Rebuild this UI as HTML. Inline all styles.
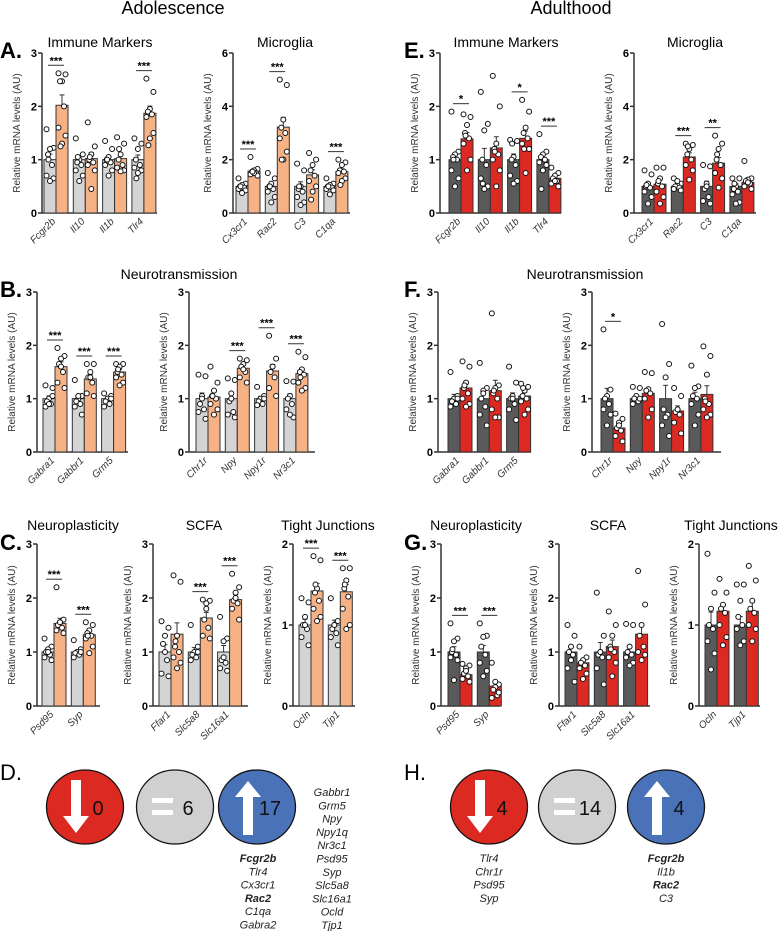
<!DOCTYPE html>
<html><head><meta charset="utf-8"><style>
body{margin:0;background:#fff;width:778px;height:931px;overflow:hidden}
svg{display:block;font-family:"Liberation Sans",sans-serif}
</style></head><body>
<svg id="fig" width="778" height="931" viewBox="0 0 778 931" xmlns="http://www.w3.org/2000/svg">
<text x="173" y="14" font-size="18" text-anchor="middle">Adolescence</text>
<text x="571" y="14" font-size="18" text-anchor="middle">Adulthood</text>
<g font-weight="bold" font-size="22">
<text x="0" y="58">A.</text>
<text x="0" y="297">B.</text>
<text x="0" y="550">C.</text>
<text x="0" y="780" font-weight="normal">D.</text>
<text x="404" y="58">E.</text>
<text x="404" y="297">F.</text>
<text x="404" y="550">G.</text>
<text x="404" y="780" font-weight="normal">H.</text>
</g>
<g font-size="14" text-anchor="middle">
<text x="100" y="47">Immune Markers</text>
<text x="285" y="47">Microglia</text>
<text x="179" y="279">Neurotransmission</text>
<text x="73" y="530">Neuroplasticity</text>
<text x="204" y="530">SCFA</text>
<text x="328" y="530">Tight Junctions</text>
<text x="506" y="47">Immune Markers</text>
<text x="695" y="47">Microglia</text>
<text x="585" y="279">Neurotransmission</text>
<text x="476" y="530">Neuroplasticity</text>
<text x="608" y="530">SCFA</text>
<text x="731" y="530">Tight Junctions</text>
</g>
</svg>
<script>
// ---- data ----
const catA1=["Fcgr2b","Il10","Il1b","Tlr4"];
const ctrlA1=[1,1,1,1]; const trtA1=[2.02,1.02,1.02,1.87];
const sigA1=["***","","","***"];
const ptsA1c=[[1.57,1.22,1.2,1.1,0.9,0.7,0.65,0.6,1.0],[1.4,1.1,1.0,0.95,0.9,0.8,0.7,0.6,1.05],[1.35,1.2,1.05,1.0,0.95,0.9,0.8,0.7,1.0],[1.4,1.3,1.2,1.0,0.9,0.85,0.8,0.75,0.65]];
const ptsA1t=[[2.62,2.6,2.47,2.47,2.0,1.6,1.45,1.3,1.25],[1.7,1.25,1.1,1.0,0.95,0.9,0.8,0.45,1.05],[1.42,1.3,1.1,1.0,0.9,0.85,0.8,0.78,1.2],[2.52,2.27,1.95,1.9,1.85,1.8,1.5,1.4,1.27]];
const catA2=["Cx3cr1","Rac2","C3","C1qa"];
const ctrlA2=[1,1,1,1]; const trtA2=[1.57,3.22,1.43,1.55];
const sigA2=["***","***","","***"];
const ptsA2c=[[1.3,1.1,1.05,1.0,0.95,0.9,0.85,0.75,1.0],[1.5,1.3,1.1,1.0,0.9,0.8,0.6,0.4,1.0],[1.85,1.6,1.0,0.9,0.8,0.6,0.4,0.3,1.0],[1.3,1.1,1.05,1.0,0.95,0.9,0.85,0.7,1.0]];
const ptsA2t=[[2.1,1.65,1.6,1.55,1.5,1.45,1.4,1.5,1.55],[5.0,4.8,3.5,3.2,3.0,2.8,2.3,2.0,2.0],[2.25,2.0,1.8,1.6,1.4,1.2,1.0,0.8,0.5],[2.0,1.9,1.8,1.6,1.55,1.5,1.3,1.2,1.05]];
const catB1=["Gabra1","Gabbr1","Grm5"];
const ctrlB1=[1,1,1]; const trtB1=[1.6,1.37,1.5]; const sigB1=["***","***","***"];
const ptsB1c=[[1.25,1.2,1.0,0.95,0.9,0.85,1.05,0.9],[1.35,1.05,1.0,0.95,0.9,0.85,0.7,1.05],[1.1,1.05,1.0,0.95,0.9,0.85,1.0]];
const ptsB1t=[[1.95,1.8,1.75,1.65,1.5,1.3,1.2,1.6],[1.65,1.65,1.5,1.4,1.3,1.1,1.05,1.4],[1.65,1.65,1.6,1.5,1.45,1.4,1.3,1.25,1.55]];
const catB2=["Chr1r","Npy","Npy1r","Nr3c1"];
const ctrlB2=[1,1,1,1]; const trtB2=[1.03,1.57,1.52,1.47]; const sigB2=["","***","***","***"];
const ptsB2c=[[1.45,1.42,1.05,0.9,0.8,0.75,0.62,1.0],[1.38,1.35,1.1,0.95,0.75,0.7,0.65,1.0],[1.22,1.05,1.0,0.95,0.9,0.88,1.0],[1.33,1.32,1.05,1.0,0.9,0.8,0.65,0.7]];
const ptsB2t=[[1.6,1.3,1.15,1.05,1.0,0.9,0.8,0.7,1.05],[1.75,1.72,1.65,1.6,1.5,1.4,1.3,1.55],[2.18,1.75,1.6,1.5,1.4,1.2,1.05,1.6],[1.88,1.78,1.55,1.5,1.45,1.3,1.2,1.15,1.4]];
const catC1=["Psd95","Syp"];
const ctrlC1=[1,1]; const trtC1=[1.53,1.32]; const sigC1=["***","***"];
const ptsC1c=[[1.25,1.1,1.05,1.0,0.95,0.9,0.85,1.0],[1.22,1.05,1.0,0.98,0.95,0.9,1.0]];
const ptsC1t=[[2.2,1.6,1.55,1.5,1.45,1.4,1.35,1.55],[1.55,1.5,1.4,1.35,1.3,1.25,1.1,0.98,1.3]];
const catC2=["Ffar1","Slc5a8","Slc16a1"];
const ctrlC2=[1,1,1]; const trtC2=[1.33,1.63,1.97]; const sigC2=["","***","***"];
const ptsC2c=[[1.57,1.45,1.3,1.15,0.85,0.6,0.55,1.0],[1.5,1.1,1.0,0.95,0.9,0.85,1.0],[1.65,1.25,1.2,0.85,0.8,0.7,0.65,0.9]];
const ptsC2t=[[2.42,2.3,1.3,1.1,1.0,0.9,0.8,0.7,1.2],[1.97,1.95,1.8,1.6,1.45,1.3,1.25,1.9],[2.45,2.2,2.1,1.95,1.9,1.8,1.6,2.0]];
const catC3=["Ocln","Tjp1"];
const ctrlC3=[1,1]; const trtC3=[1.42,1.41]; const sigC3=["***","***"];
const ptsC3c=[[1.33,1.28,1.1,1.0,0.95,0.85,0.75,1.0],[1.33,1.05,1.0,0.95,0.9,0.85,0.75,1.0]];
const ptsC3t=[[1.85,1.8,1.45,1.4,1.3,1.2,1.1,1.05,1.5],[1.7,1.7,1.55,1.45,1.35,1.2,1.0,0.95,1.5]];
const catE1=["Fcgr2b","Il10","Il1b","Tlr4"];
const ctrlE1=[1,1,1,1]; const trtE1=[1.39,1.22,1.4,0.65]; const sigE1=["*","","*","***"];
const ptsE1c=[[1.9,1.15,1.1,1.05,1.0,0.8,0.65,0.5,1.0],[2.27,1.67,1.55,1.0,0.9,0.65,0.5,0.45,0.55],[1.37,1.35,1.05,1.0,0.9,0.7,0.6,0.55,1.3],[1.48,1.15,1.1,1.05,1.0,0.95,0.9,0.8,0.45]];
const ptsE1t=[[1.85,1.8,1.65,1.5,1.4,1.3,1.0,0.8,1.45],[2.57,2.0,1.3,1.2,1.1,1.0,0.8,0.5,1.15],[2.12,1.9,1.6,1.5,1.4,1.3,1.2,0.75,1.2],[0.85,0.75,0.7,0.65,0.6,0.55,0.5,0.6]];
const catE2=["Cx3cr1","Rac2","C3","C1qa"];
const ctrlE2=[1,1,1,1]; const trtE2=[1.08,2.1,1.87,1.15]; const sigE2=["","***","**",""];
const ptsE2c=[[1.6,1.45,1.1,1.0,0.95,0.8,0.6,0.35,1.05],[1.3,1.1,1.05,1.0,0.95,0.9,0.85,1.2],[1.8,1.75,1.1,0.9,0.6,0.45,0.35,1.0],[1.3,1.3,1.0,0.9,0.8,0.7,0.4,0.35,1.1]];
const ptsE2t=[[1.7,1.7,1.3,1.1,1.0,0.8,0.6,0.35,1.2],[2.6,2.55,2.4,2.2,2.0,1.8,1.6,1.25,2.5],[2.9,2.6,2.4,2.0,1.8,1.5,1.3,0.95,2.2],[1.95,1.3,1.25,1.2,1.1,1.0,0.9,1.15]];
const catF1=["Gabra1","Gabbr1","Grm5"];
const ctrlF1=[1,1,1]; const trtF1=[1.2,1.15,1.05]; const sigF1=["","",""];
const ptsF1c=[[1.5,1.05,1.0,0.95,0.9,0.85,1.0],[1.67,1.2,1.15,1.0,0.85,0.7,0.5,1.1],[1.6,1.3,1.05,1.0,0.9,0.8,0.6,1.0]];
const ptsF1t=[[1.7,1.6,1.3,1.2,1.1,1.0,0.9,0.85,1.25],[2.6,1.25,1.2,1.1,1.0,0.8,0.65,0.65,1.15],[1.28,1.22,1.15,1.05,1.0,0.95,0.8,0.7,1.2]];
const catF2=["Chr1r","Npy","Npy1r","Nr3c1"];
const ctrlF2=[1,1,1,1]; const trtF2=[0.45,1.1,0.77,1.08]; const sigF2=["*","","",""];
const ptsF2c=[[2.3,1.17,1.05,1.0,0.9,0.8,0.7,0.5],[1.22,1.2,1.05,1.0,0.95,0.9,1.0],[2.4,1.65,1.4,0.8,0.7,0.5,0.3,0.65],[1.62,1.23,1.2,1.05,1.0,0.9,0.7,0.5]];
const ptsF2t=[[0.72,0.62,0.55,0.45,0.4,0.3,0.2,0.5],[1.5,1.48,1.18,1.15,1.1,1.0,0.8,0.65],[1.2,1.05,0.78,0.75,0.7,0.55,0.35,0.8],[1.98,1.8,1.45,1.0,0.9,0.8,0.7,0.65,0.95]];
const catG1=["Psd95","Syp"];
const ctrlG1=[1,1]; const trtG1=[0.58,0.37]; const sigG1=["***","***"];
const ptsG1c=[[1.53,1.25,1.2,1.0,0.95,0.9,0.85,0.48,1.05],[1.53,1.3,1.28,1.1,0.95,0.8,0.65,0.55]];
const ptsG1t=[[0.78,0.75,0.7,0.6,0.55,0.5,0.45,0.65],[0.8,0.4,0.35,0.3,0.2,0.15,0.25,0.45]];
const catG2=["Ffar1","Slc5a8","Slc16a1"];
const ctrlG2=[1,1,1]; const trtG2=[0.8,1.1,1.33]; const sigG2=["","",""];
const ptsG2c=[[1.5,1.3,1.1,1.0,0.95,0.7,0.45,0.85],[2.1,1.3,1.0,0.95,0.9,0.7,0.4,1.0],[1.52,1.5,1.1,1.0,0.95,0.9,0.8,0.75]];
const ptsG2t=[[1.1,0.9,0.85,0.8,0.75,0.7,0.6,0.5],[1.75,1.5,1.3,1.1,1.0,0.9,0.8,0.55,1.05],[2.5,1.88,1.5,1.3,1.1,1.0,0.95,0.85]];
const catG3=["Ocln","Tjp1"];
const ctrlG3=[1,1]; const trtG3=[1.17,1.17]; const sigG3=["",""];
const ptsG3c=[[1.88,1.4,1.2,1.0,0.95,0.8,0.65,0.45],[1.5,1.5,1.3,1.1,1.0,0.95,0.8,0.75]];
const ptsG3t=[[1.57,1.4,1.25,1.2,1.15,1.0,0.85,0.75],[1.73,1.55,1.3,1.2,1.15,1.0,0.95,0.8]];
const tick3=[0,1,2,3]; const tick6=[0,2,4,6]; const tick2=[0,1,2];

const NS="http://www.w3.org/2000/svg";
const svg=document.getElementById('fig');
function mk(tag,at,parent){const e=document.createElementNS(NS,tag);for(const k in at)e.setAttribute(k,at[k]);(parent||svg).appendChild(e);return e;}
function sem(a){const m=a.reduce((s,v)=>s+v,0)/a.length;const sd=Math.sqrt(a.reduce((s,v)=>s+(v-m)*(v-m),0)/(a.length-1));return sd/Math.sqrt(a.length);}

function chart(name,ax,y0,ytop,ymax,ticks,endX,firstBar,cats,ctrl,trt,pc,pt,sig,cC,tC){
  const g=mk('g',{});
  
  
  const ys=v=>y0-(v/ymax)*(y0-ytop);
  const bw=12,pitch=29.3;
  const yl=mk('line',{x1:ax,y1:ytop,x2:ax,y2:y0,stroke:'#333','stroke-width':1.5},g);
  
  
  const xl=mk('line',{x1:ax,y1:y0,x2:endX,y2:y0,stroke:'#333','stroke-width':1.5},g);
  
  
  ticks.forEach(t=>{
    mk('line',{x1:ax-4,y1:ys(t),x2:ax,y2:ys(t),stroke:'#333','stroke-width':1.5},g);
    const tx=mk('text',{x:ax-5,y:ys(t)+4,'font-size':11,'font-weight':'bold','text-anchor':'end'},g);
    tx.textContent=t;
    
    
  });
  const ym=(y0+ytop)/2;
  const yt=mk('text',{x:ax-22,y:ym,'font-size':10,fill:'#333','text-anchor':'middle',transform:`rotate(-90 ${ax-22} ${ym})`},g);
  yt.textContent='Relative mRNA levels (AU)';
  
  
  cats.forEach((c,i)=>{
    const x=firstBar+i*pitch;
    [[ctrl[i],pc[i],cC,x],[trt[i],pt[i],tC,x+bw]].forEach(([m,pts,col,bx],j)=>{
      const r=mk('rect',{x:bx,y:ys(m),width:bw,height:y0-ys(m),fill:col,stroke:'#333','stroke-width':1},g);
      
      
      const e=sem(pts);const cx=bx+bw/2;
      mk('line',{x1:cx,y1:ys(m),x2:cx,y2:ys(m+e),stroke:'#333','stroke-width':1},g);
      mk('line',{x1:cx-2.5,y1:ys(m+e),x2:cx+2.5,y2:ys(m+e),stroke:'#333','stroke-width':1},g);
      pts.forEach((v,k)=>{
        const off=[-3.5,3.5,0,-2,2,-3.5,3.5,0,-1.5][k%9];
        const p=mk('circle',{cx:cx+off,cy:ys(v),r:2.5,fill:'#fff',stroke:'#111','stroke-width':1},g);
        
        
      });
    });
    const lx=x+bw, ly=y0+9;
    const lb=mk('text',{x:lx,y:ly,'font-size':10,'font-style':'italic',fill:'#333','text-anchor':'end',transform:`rotate(-45 ${lx} ${ly})`},g);
    lb.textContent=c;
    
    
    if(sig[i]){
      const all=pc[i].concat(pt[i]);const top=Math.max(...all,trt[i]+sem(pt[i]));
      const sy=ys(top)-8;
      mk('line',{x1:x+bw-8,y1:sy,x2:x+bw+8,y2:sy,stroke:'#333','stroke-width':1},g);
      const st=mk('text',{x:x+bw,y:sy-1,'font-size':11,'font-weight':'bold','text-anchor':'middle'},g);
      st.textContent=sig[i];
      
      
    }
  });
}
const LG='#d4d4d4',OR='#f6b285',DG='#5a5a5a',RD='#dc2a22';
chart('chart-immune-adol',42,213,53,3,tick3,157,44,catA1,ctrlA1,trtA1,ptsA1c,ptsA1t,sigA1,LG,OR);
chart('chart-microglia-adol',233,213,53,6,tick6,350,236,catA2,ctrlA2,trtA2,ptsA2c,ptsA2t,sigA2,LG,OR);
chart('chart-neuro1-adol',37,452,292,3,tick3,128,43,catB1,ctrlB1,trtB1,ptsB1c,ptsB1t,sigB1,LG,OR);
chart('chart-neuro2-adol',189,452,292,3,tick3,315,196,catB2,ctrlB2,trtB2,ptsB2c,ptsB2t,sigB2,LG,OR);
chart('chart-neuroplasticity-adol',37,706,544,3,tick3,100,42,catC1,ctrlC1,trtC1,ptsC1c,ptsC1t,sigC1,LG,OR);
chart('chart-scfa-adol',153,706,544,3,tick3,248,159,catC2,ctrlC2,trtC2,ptsC2c,ptsC2t,sigC2,LG,OR);
chart('chart-tj-adol',293,706,544,2,tick2,355,299,catC3,ctrlC3,trtC3,ptsC3c,ptsC3t,sigC3,LG,OR);
chart('chart-immune-adult',440,213,53,3,tick3,561,449,catE1,ctrlE1,trtE1,ptsE1c,ptsE1t,sigE1,DG,RD);
chart('chart-microglia-adult',634,213,53,6,tick6,756,642,catE2,ctrlE2,trtE2,ptsE2c,ptsE2t,sigE2,DG,RD);
chart('chart-neuro1-adult',438,452,292,3,tick3,531,448,catF1,ctrlF1,trtF1,ptsF1c,ptsF1t,sigF1,DG,RD);
chart('chart-neuro2-adult',592,452,292,3,tick3,721,601,catF2,ctrlF2,trtF2,ptsF2c,ptsF2t,sigF2,DG,RD);
chart('chart-neuroplasticity-adult',441,706,544,3,tick3,500,448,catG1,ctrlG1,trtG1,ptsG1c,ptsG1t,sigG1,DG,RD);
chart('chart-scfa-adult',559,706,544,3,tick3,650,565,catG2,ctrlG2,trtG2,ptsG2c,ptsG2t,sigG2,DG,RD);
chart('chart-tj-adult',699,706,544,2,tick2,760,705,catG3,ctrlG3,trtG3,ptsG3c,ptsG3t,sigG3,DG,RD);

// summary circles
function circ(name,cx,cy,fill,kind,num){
  const g=mk('g',{});
  
  
  mk('ellipse',{cx:cx,cy:cy,rx:38.5,ry:37,fill:fill,stroke:'#111','stroke-width':1.3},g);
  if(kind==='down'){
    mk('polygon',{points:`${cx-14},${cy-27} ${cx-4},${cy-27} ${cx-4},${cy+9} ${cx+4},${cy+9} ${cx-9},${cy+26} ${cx-22},${cy+9} ${cx-14},${cy+9}`,fill:'#fff'},g);
  }else if(kind==='up'){
    mk('polygon',{points:`${cx-14},${cy+28} ${cx-4},${cy+28} ${cx-4},${cy-10} ${cx+4},${cy-10} ${cx-9},${cy-26} ${cx-22},${cy-10} ${cx-14},${cy-10}`,fill:'#fff'},g);
  }else{
    mk('rect',{x:cx-23,y:cy-9,width:21,height:5,fill:'#fff'},g);
    mk('rect',{x:cx-23,y:cy+3,width:21,height:5,fill:'#fff'},g);
  }
  const t=mk('text',{x:cx+13,y:cy+8,'font-size':20,'text-anchor':'middle',fill:'#111'},g);
  t.textContent=num;
  
  
}
circ('down-count-adol',85,807,'#dc2a22','down','0');
circ('equal-count-adol',175,807,'#d0d0d0','eq','6');
circ('up-count-adol',257,807,'#4a72b8','up','17');
circ('down-count-adult',489,807,'#dc2a22','down','4');
circ('equal-count-adult',577,807,'#d0d0d0','eq','14');
circ('up-count-adult',666,807,'#4a72b8','up','4');
function list(name,x,y0,items,bold){
  const g=mk('g',{});
  
  
  items.forEach((s,i)=>{
    const t=mk('text',{x:x,y:y0+i*13.3,'font-size':11,'font-style':'italic','text-anchor':'middle',fill:'#222','font-weight':bold.includes(s)?'bold':'normal'},g);
    t.textContent=s;
  });
}
list('up-genes-adol',258,862,["Fcgr2b","Tlr4","Cx3cr1","Rac2","C1qa","Gabra2"],["Fcgr2b","Rac2"]);
list('up-genes-adol-2',332,796,["Gabbr1","Grm5","Npy","Npy1q","Nr3c1","Psd95","Syp","Slc5a8","Slc16a1","Ocld","Tjp1"],[]);
list('down-genes-adult',489,862,["Tlr4","Chr1r","Psd95","Syp"],[]);
list('up-genes-adult',666,862,["Fcgr2b","Il1b","Rac2","C3"],["Fcgr2b","Rac2"]);
</script>
</body></html>
